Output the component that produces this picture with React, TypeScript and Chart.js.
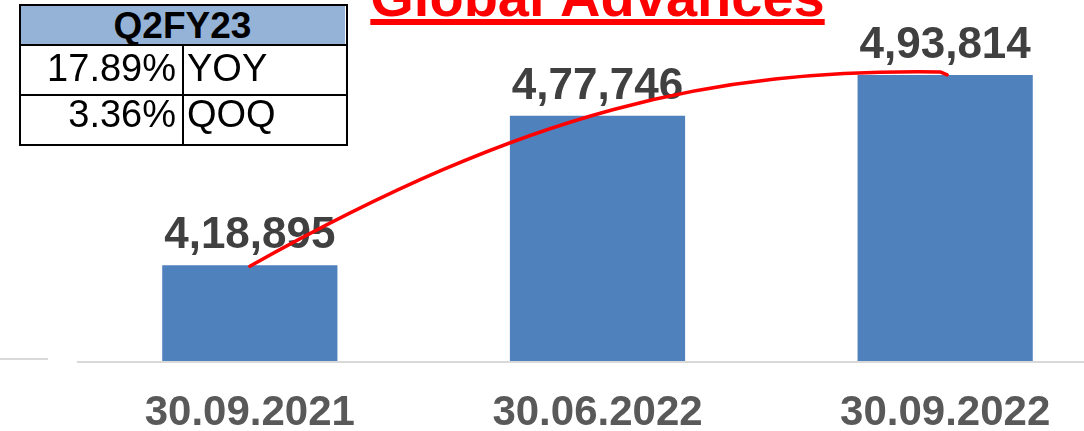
import React, { useEffect, useRef } from "react";
import { Chart, registerables } from "chart.js";

Chart.register(...registerables);

const categories = ["30.09.2021", "30.06.2022", "30.09.2022"];
const advances = [418895, 477746, 493814];
const valueLabels = ["4,18,895", "4,77,746", "4,93,814"];
const titleText = "Global Advances";
const tableHeader = "Q2FY23";
const tableRows: [string, string][] = [
  ["17.89%", "YOY"],
  ["3.36%", "QOQ"],
];
const yMin = 381200;
const yMax = 523300;

const FONT = "'Liberation Sans', Arial, Helvetica, sans-serif";

const overlayPlugin = {
  id: "overlay",
  beforeDatasetsDraw(chart: any) {
    const { ctx, chartArea } = chart;
    ctx.save();
    ctx.fillStyle = "#D9D9D9";
    ctx.fillRect(77, chartArea.bottom, chart.width - 77, 2);
    ctx.fillRect(0, chartArea.bottom - 3, 48, 2);
    ctx.restore();
  },
  afterDatasetsDraw(chart: any) {
    const ctx = chart.ctx;
    const meta = chart.getDatasetMeta(0);
    ctx.save();
    // value labels
    ctx.font = `bold 44px ${FONT}`;
    ctx.fillStyle = "#404040";
    ctx.textAlign = "center";
    ctx.textBaseline = "alphabetic";
    meta.data.forEach((bar: any, i: number) => {
      ctx.fillText(valueLabels[i], bar.x, bar.y - 17);
    });
    // red hand-drawn curve
    const s = meta.data[0];
    const e = meta.data[2];
    const x0 = s.x;
    const y0 = s.y + 1;
    const x3 = e.x - 5;
    const y3 = e.y - 3;
    const dx = x3 - x0;
    const dy = y3 - y0;
    ctx.beginPath();
    ctx.moveTo(x0, y0);
    ctx.bezierCurveTo(
      x0 + 0.403 * dx,
      y0 + 0.802 * dy,
      x0 + 0.669 * dx,
      y0 + 1.016 * dy,
      x3,
      y3
    );
    ctx.lineTo(x3 + 7, y3 + 3);
    ctx.strokeStyle = "#FF0000";
    ctx.lineWidth = 3.5;
    ctx.lineCap = "round";
    ctx.lineJoin = "round";
    ctx.stroke();
    // title
    const cx = chart.scales.x.getPixelForValue(1);
    ctx.font = `bold 56px ${FONT}`;
    ctx.fillStyle = "#FF0000";
    ctx.textAlign = "center";
    ctx.fillText(titleText, cx, 16);
    const w = ctx.measureText(titleText).width;
    ctx.fillRect(cx - w / 2, 19, w, 6);
    ctx.restore();
  },
};

function InfoTable() {
  const border = "2px solid #000";
  const cellText = (text: string, baseline: number, size: number, bold: boolean, style: React.CSSProperties) => (
    <div
      style={{
        position: "absolute",
        top: baseline - 0.8465 * size,
        height: size,
        lineHeight: `${size}px`,
        fontSize: size,
        fontWeight: bold ? 700 : 400,
        fontFamily: FONT,
        color: "#000",
        whiteSpace: "nowrap",
        ...style,
      }}
    >
      {text}
    </div>
  );
  return (
    <div style={{ position: "absolute", left: 0, top: 0, width: 400, height: 160, pointerEvents: "none" }}>
      <div style={{ position: "absolute", left: 20, top: 5, width: 325, height: 40, background: "#95B3D7" }} />
      <div style={{ position: "absolute", left: 19, top: 4, width: 325, height: 138, border, boxSizing: "content-box" }} />
      <div style={{ position: "absolute", left: 19, top: 44, width: 327, height: 0, borderTop: border }} />
      <div style={{ position: "absolute", left: 19, top: 94, width: 327, height: 0, borderTop: border }} />
      <div style={{ position: "absolute", left: 182, top: 44, width: 0, height: 100, borderLeft: border }} />
      {cellText(tableHeader, 38, 37, true, { left: 20, width: 325, textAlign: "center" })}
      {cellText(tableRows[0][0], 81, 38, false, { left: 20, width: 156, textAlign: "right" })}
      {cellText(tableRows[0][1], 81, 38, false, { left: 187 })}
      {cellText(tableRows[1][0], 127, 38, false, { left: 20, width: 156, textAlign: "right" })}
      {cellText(tableRows[1][1], 127, 38, false, { left: 187 })}
    </div>
  );
}

export default function App() {
  const canvasRef = useRef<HTMLCanvasElement | null>(null);

  useEffect(() => {
    if (!canvasRef.current) return;
    const chart = new Chart(canvasRef.current, {
      type: "bar",
      data: {
        labels: categories,
        datasets: [
          {
            data: advances,
            backgroundColor: "#4F81BD",
            borderWidth: 0,
            barPercentage: 0.504,
            categoryPercentage: 1,
          },
        ],
      },
      options: {
        responsive: false,
        animation: false,
        devicePixelRatio: 1,
        layout: { padding: { left: 76, right: 1, top: 0, bottom: 0 } },
        plugins: { legend: { display: false }, tooltip: { enabled: false }, title: { display: false } },
        scales: {
          x: {
            grid: { display: false, drawTicks: false },
            border: { display: false },
            ticks: {
              color: "#595959",
              padding: 31,
              font: { family: FONT, size: 42, weight: "bold", lineHeight: 1 },
              maxRotation: 0,
              autoSkip: false,
            },
          },
          y: {
            display: false,
            min: yMin,
            max: yMax,
          },
        },
      },
      plugins: [overlayPlugin],
    });
    return () => chart.destroy();
  }, []);

  return (
    <div style={{ position: "fixed", left: 0, top: 0, width: 1084, height: 431, overflow: "hidden", background: "#fff" }}>
      <canvas ref={canvasRef} width={1120} height={465} style={{ display: "block" }} />
      <InfoTable />
    </div>
  );
}
